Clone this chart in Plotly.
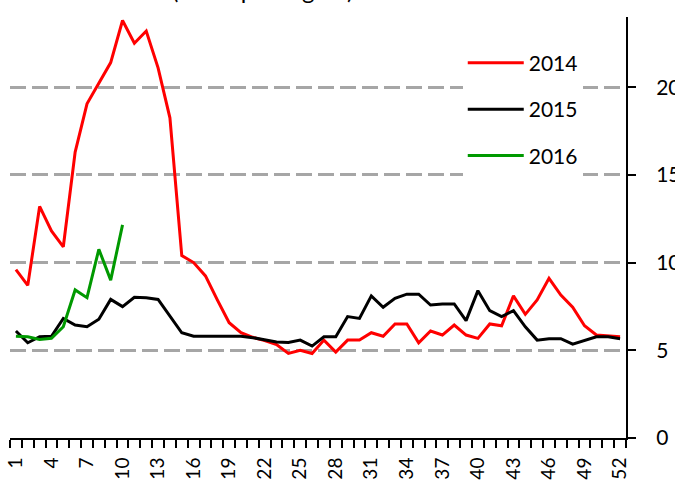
import plotly.graph_objects as go

weeks = list(range(1, 53))
tick_weeks = list(range(1, 53, 3))
tick_labels = [str(w) for w in tick_weeks]

y2014 = [9.6, 8.7, 13.2, 11.8, 10.9, 16.3, 19.05, 20.2, 21.4, 23.8,
         22.5, 23.2, 21.1, 18.25, 10.4, 10.0, 9.24, 7.87, 6.57, 6.0,
         5.74, 5.55, 5.33, 4.82, 5.0, 4.82, 5.58, 4.9, 5.58, 5.58,
         6.0, 5.8, 6.5, 6.5, 5.43, 6.1, 5.87, 6.44, 5.87, 5.68,
         6.5, 6.4, 8.1, 7.05, 7.87, 9.1, 8.15, 7.45, 6.4, 5.87,
         5.8, 5.77]
y2015 = [6.1, 5.43, 5.77, 5.8, 6.82, 6.44, 6.34, 6.77, 7.9, 7.49,
         8.02, 8.0, 7.9, 6.95, 6.0, 5.8, 5.8, 5.8, 5.8, 5.8,
         5.72, 5.58, 5.47, 5.45, 5.58, 5.24, 5.77, 5.77, 6.92, 6.82,
         8.1, 7.45, 7.96, 8.2, 8.2, 7.58, 7.64, 7.64, 6.69, 8.4,
         7.26, 6.92, 7.26, 6.34, 5.58, 5.66, 5.66, 5.35, 5.54, 5.77,
         5.77, 5.66]
y2016 = [5.8, 5.77, 5.62, 5.68, 6.34, 8.44, 8.0, 10.76, 9.0, 12.15]

y_ticks = [0, 5, 10, 15, 20]
title_text = "(cases per region)"

FONT = "Lato, 'Noto Sans', sans-serif"

fig = go.Figure()
series = [("2014", y2014, "#ff0000"), ("2015", y2015, "#000000"), ("2016", y2016, "#009900")]
for name, ys, col in series:
    fig.add_trace(go.Scatter(
        x=weeks[:len(ys)], y=ys, mode="lines", name=name, legendgroup=name,
        line=dict(color=col, width=3)))

fig.update_layout(
    width=675, height=483,
    margin=dict(l=10, r=49, t=17, b=45, pad=0, autoexpand=False),
    paper_bgcolor="white", plot_bgcolor="white",
    font=dict(family=FONT, size=20, color="black"),
    showlegend=True,
    legend=dict(x=0.735, y=0.939, xanchor="left", yanchor="top",
                bgcolor="white", borderwidth=0,
                font=dict(size=21, family=FONT),
                itemwidth=56, tracegroupgap=16, itemclick=False),
    xaxis=dict(range=[0.5, 52.5], tickmode="array", tickvals=tick_weeks, ticktext=tick_labels,
               tickangle=-90, ticks="outside", ticklen=8, tickcolor="rgba(0,0,0,0)",
               ticklabelstandoff=2, automargin=False,
               minor=dict(ticks="outside", ticklen=8, tickwidth=2, tickcolor="black",
                          tickmode="linear", tick0=0.5, dtick=1, showgrid=False),
               showline=True, linecolor="black", linewidth=2, showgrid=False, zeroline=False,
               tickfont=dict(size=19), fixedrange=True),
    yaxis=dict(range=[0, 24], side="right", tickmode="array", tickvals=y_ticks,
               ticks="outside", ticklen=8, tickwidth=2, tickcolor="black",
               ticklabelstandoff=16, automargin=False,
               showline=True, linecolor="black", linewidth=2,
               showgrid=True, gridcolor="#a6a6a6", gridwidth=2.5, griddash="15.7px,6.3px",
               zeroline=False, tickfont=dict(size=21), fixedrange=True),
)

fig.add_annotation(text=title_text, xref="paper", yref="paper", x=0.41, y=1,
                   xanchor="center", yanchor="bottom", yshift=11, showarrow=False,
                   font=dict(size=24, family=FONT))

fig.write_html("out.html", include_plotlyjs=True, full_html=True,
               config={"displayModeBar": False},
               post_script="document.body.style.margin='0';")
